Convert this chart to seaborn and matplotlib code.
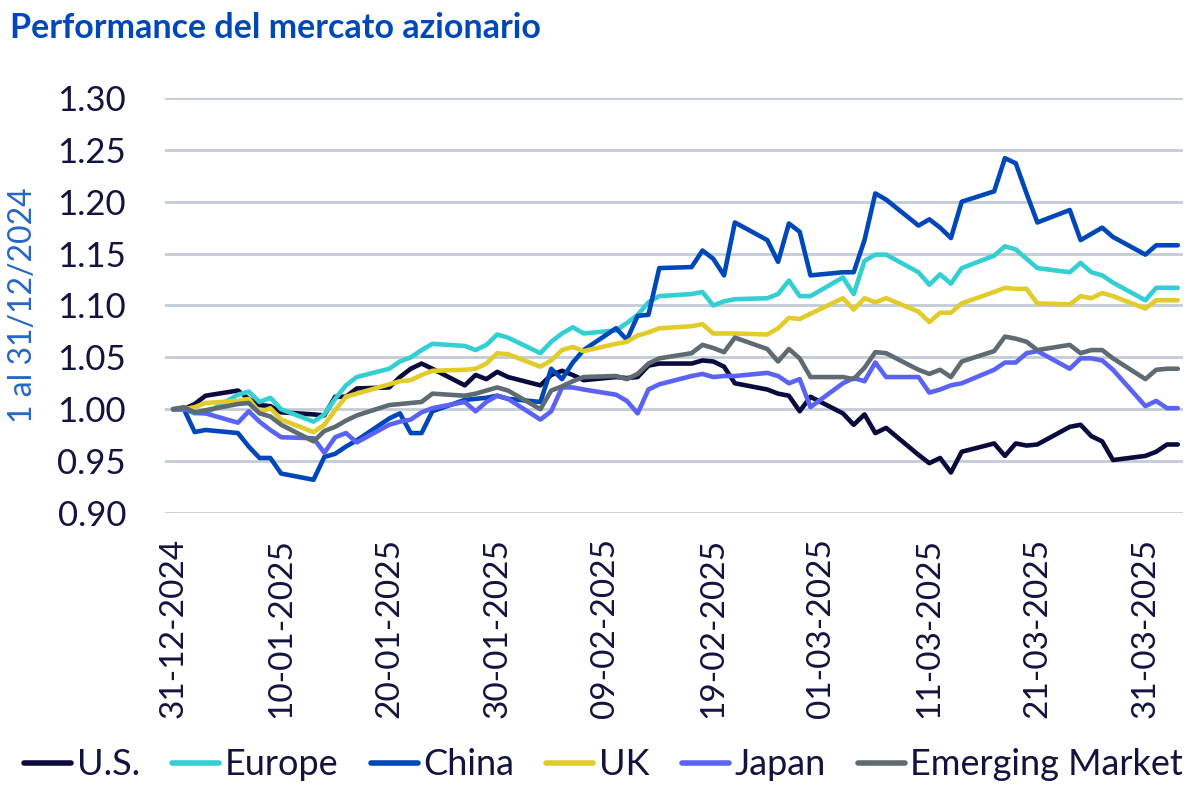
import pandas as pd
import matplotlib.pyplot as plt
import matplotlib.dates as mdates
import seaborn as sns

# Data (rebased to 1 at 31/12/2024)
dates = pd.bdate_range("2024-12-31", "2025-04-03")

us = [1.000, 1.000, 1.005, 1.013, 1.018, 1.010, 1.004, 1.003, 0.997, 0.995,
      0.994, 1.012, 1.012, 1.020, 1.021, 1.031, 1.039, 1.044, 1.039, 1.023,
      1.033, 1.029, 1.036, 1.031, 1.023, 1.033, 1.037, 1.033, 1.028, 1.031,
      1.030, 1.031, 1.042, 1.044, 1.044, 1.047, 1.046, 1.041, 1.025, 1.019,
      1.015, 1.013, 0.998, 1.012, 0.996, 0.985, 0.995, 0.977, 0.982, 0.956,
      0.948, 0.953, 0.939, 0.959, 0.967, 0.955, 0.967, 0.965, 0.966, 0.983,
      0.985, 0.974, 0.969, 0.951, 0.955, 0.959, 0.966, 0.966]
europe = [1.000, 1.000, 0.996, 0.996, 1.014, 1.017, 1.007, 1.011, 1.000, 0.988,
          0.995, 1.010, 1.023, 1.031, 1.039, 1.046, 1.050, 1.057, 1.063, 1.061,
          1.057, 1.062, 1.072, 1.069, 1.054, 1.065, 1.073, 1.079, 1.073, 1.076,
          1.083, 1.091, 1.103, 1.109, 1.111, 1.113, 1.100, 1.104, 1.106, 1.107,
          1.111, 1.124, 1.109, 1.109, 1.127, 1.111, 1.143, 1.149, 1.149, 1.132,
          1.120, 1.130, 1.121, 1.136, 1.148, 1.157, 1.154, 1.145, 1.136, 1.132,
          1.141, 1.132, 1.129, 1.122, 1.105, 1.117, 1.117, 1.117]
china = [1.000, 1.000, 0.978, 0.980, 0.977, 0.964, 0.953, 0.953, 0.938, 0.932,
         0.954, 0.957, 0.964, 0.970, 0.991, 0.996, 0.977, 0.977, 0.998, 1.009,
         1.010, 1.011, 1.013, 1.010, 1.007, 1.039, 1.029, 1.045, 1.057, 1.078,
         1.067, 1.090, 1.091, 1.136, 1.137, 1.153, 1.145, 1.129, 1.180, 1.163,
         1.142, 1.179, 1.171, 1.129, 1.132, 1.132, 1.163, 1.208, 1.202, 1.177,
         1.183, 1.175, 1.165, 1.200, 1.210, 1.242, 1.237, 1.208, 1.180, 1.192,
         1.163, 1.169, 1.175, 1.166, 1.149, 1.158, 1.158, 1.158]
uk = [1.000, 1.000, 1.002, 1.006, 1.008, 1.010, 0.997, 1.001, 0.990, 0.978,
      0.985, 0.999, 1.012, 1.015, 1.024, 1.027, 1.028, 1.033, 1.037, 1.038,
      1.039, 1.044, 1.054, 1.053, 1.041, 1.047, 1.057, 1.060, 1.056, 1.063,
      1.065, 1.071, 1.074, 1.078, 1.080, 1.082, 1.073, 1.073, 1.073, 1.072,
      1.078, 1.088, 1.087, 1.092, 1.107, 1.096, 1.107, 1.103, 1.107, 1.094,
      1.084, 1.093, 1.093, 1.102, 1.113, 1.117, 1.116, 1.116, 1.102, 1.101,
      1.109, 1.107, 1.112, 1.109, 1.097, 1.105, 1.105, 1.105]
japan = [1.000, 1.000, 0.997, 0.996, 0.987, 0.998, 0.988, 0.980, 0.973, 0.972,
         0.958, 0.973, 0.977, 0.968, 0.985, 0.988, 0.990, 0.997, 1.001, 1.007,
         0.998, 1.007, 1.013, 1.010, 0.990, 0.998, 1.021, 1.021, 1.019, 1.014,
         1.008, 0.996, 1.019, 1.024, 1.032, 1.034, 1.031, 1.032, 1.032, 1.035,
         1.032, 1.025, 1.029, 1.002, 1.025, 1.030, 1.027, 1.045, 1.031, 1.031,
         1.016, 1.019, 1.023, 1.025, 1.038, 1.045, 1.045, 1.054, 1.056, 1.039,
         1.049, 1.049, 1.047, 1.038, 1.003, 1.008, 1.001, 1.001]
emerging = [1.000, 1.002, 0.997, 0.999, 1.005, 1.006, 0.996, 0.993, 0.985, 0.969,
            0.979, 0.983, 0.989, 0.994, 1.004, 1.005, 1.006, 1.007, 1.015, 1.013,
            1.015, 1.018, 1.021, 1.018, 1.000, 1.018, 1.022, 1.027, 1.031, 1.032,
            1.029, 1.034, 1.044, 1.049, 1.054, 1.062, 1.059, 1.055, 1.069, 1.058,
            1.046, 1.058, 1.049, 1.031, 1.031, 1.029, 1.040, 1.055, 1.054, 1.038,
            1.034, 1.038, 1.031, 1.046, 1.056, 1.070, 1.068, 1.065, 1.057, 1.062,
            1.054, 1.057, 1.057, 1.049, 1.029, 1.038, 1.039, 1.039]

series_names = ["U.S.", "Europe", "China", "UK", "Japan", "Emerging Market"]
colors = ["#0B0A3C", "#33CFD2", "#0048BA", "#E2CC2C", "#5B63F4", "#5F6B72"]
tick_dates = pd.date_range("2024-12-31", "2025-03-31", freq="10D")

df = pd.DataFrame({
    "date": dates,
    "U.S.": us,
    "Europe": europe,
    "China": china,
    "UK": uk,
    "Japan": japan,
    "Emerging Market": emerging,
})
long_df = df.melt(id_vars="date", var_name="series", value_name="value")

# Style
sns.set_theme(style="white")
plt.rcParams["font.family"] = ["Lato", "DejaVu Sans"]
text_color = "#13133F"

fig = plt.figure(figsize=(12, 8.01), dpi=100)
ax = fig.add_axes([0.1375, 0.3596, 0.8485, 0.5181])

sns.lineplot(
    data=long_df,
    x="date",
    y="value",
    hue="series",
    hue_order=series_names,
    palette=dict(zip(series_names, colors)),
    linewidth=3.3,
    ax=ax,
    legend=False,
)

ax.set_ylim(0.90, 1.30)
ax.set_yticks([0.90, 0.95, 1.00, 1.05, 1.10, 1.15, 1.20, 1.25, 1.30])
ax.yaxis.set_major_formatter(plt.FuncFormatter(lambda v, p: f"{v:.2f}"))
ax.set_xlim(dates[0] - pd.Timedelta(hours=18), dates[-1] + pd.Timedelta(hours=12))
ax.set_xticks(tick_dates)
ax.xaxis.set_major_formatter(mdates.DateFormatter("%d-%m-%Y"))
ax.tick_params(axis="x", labelrotation=90, labelsize=24, colors=text_color, length=0, pad=18)
ax.tick_params(axis="y", labelsize=25, colors=text_color, length=0, pad=28)

ax.grid(axis="y", color="#C3CCD6", linewidth=2)
ax.grid(axis="x", visible=False)
for s in ax.spines.values():
    s.set_visible(False)
ax.set_xlabel("")
ax.set_ylabel("1 al 31/12/2024", fontsize=23, color="#2566C8", labelpad=14)

fig.text(0.008, 0.965, "Performance del mercato azionario", fontsize=24.5,
         fontweight="bold", color="#0048BA", va="center", ha="left")

handles = [plt.Line2D([], [], color=c, linewidth=4, solid_capstyle="round") for c in colors]
fig.legend(handles, series_names, loc="center", bbox_to_anchor=(0.503, 0.045), ncol=6,
           frameon=False, fontsize=26, handlelength=1.3, handletextpad=0.15,
           columnspacing=0.9, labelcolor=text_color)

fig.savefig("out.png", dpi=100)
